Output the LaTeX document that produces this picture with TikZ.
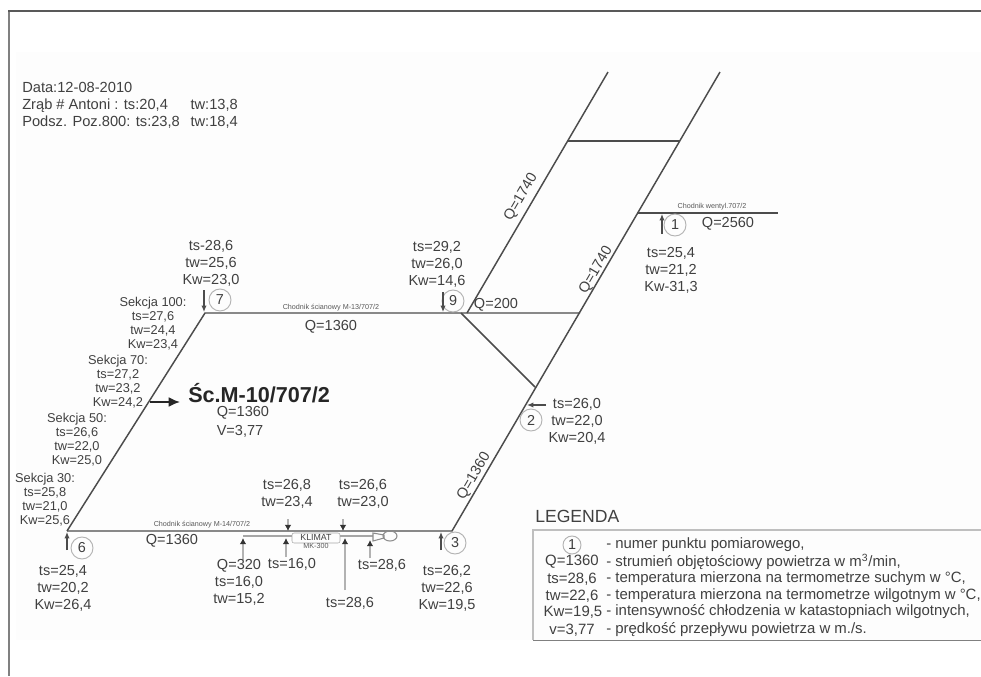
\documentclass[tikz,border=0pt]{standalone}
\usepackage{fontspec}
\setmainfont{Liberation Sans}
\usetikzlibrary{arrows.meta,shapes.geometric}
\begin{document}
\begin{tikzpicture}[
  x=0.75pt, y=-0.75pt,
  txt/.style={text=black!75, align=center, inner sep=0pt, font=\fontsize{10.9}{12.75}\selectfont},
  sek/.style={text=black!75, align=center, inner sep=0pt, font=\fontsize{9.6}{10.5}\selectfont},
  tiny/.style={text=black!65, inner sep=0pt, font=\fontsize{5.4}{6}\selectfont},
  legr/.style={text=black!75, anchor=west, inner sep=0pt, font=\fontsize{11.2}{12}\selectfont},
  pt/.style={circle, draw=black!30, line width=0.7pt, text=black!75, minimum size=16.5pt, inner sep=0pt, font=\fontsize{10.8}{12}\selectfont},
  gal/.style={draw=black!70, line width=1.1pt},
  arr/.style={draw=black!70, line width=0.8pt, -{Latex[length=1.7mm, width=1.4mm]}},
  arg/.style={draw=black!30, line width=0.8pt, -{Latex[length=1.6mm, width=1.7mm, black!80]}},
  duct/.style={draw=black!35, line width=0.8pt},
]
\useasboundingbox (0,0) rectangle (981,676);
\fill[black!0.7] (16,52) rectangle (981,640);
\draw[black!50, line width=1.8pt] (9,11) -- (9,676);
\draw[black!65, line width=1.2pt] (981,11) -- (8.3,11);
% Junctions of the roadways.
\coordinate (j6) at (67,531);
\coordinate (j3) at (452,531);
\coordinate (j7) at (205,313);
\coordinate (j9) at (461,313);
\coordinate (j9b) at (467,313);
\coordinate (jQ) at (580,313);
\coordinate (j2) at (535,387);
\coordinate (j1) at (637,213);
\coordinate (e1) at (778,213);
\coordinate (topL) at (608,72);
\coordinate (topR) at (720,72);
\coordinate (crossL) at (568,141);
\coordinate (crossR) at (680,141);
\draw[gal] (j6) -- (j3) -- (topR);
\draw[gal] (j6) -- (j7) -- (jQ);
\draw[gal] (j9b) -- (topL);
\draw[gal] (crossL) -- (crossR);
\draw[gal] (j9) -- (j2);
\draw[gal, line width=0.9pt] (j1) -- (e1);
% Header.
\node[txt, anchor=north west, align=left, font=\fontsize{11}{12.75}\selectfont] (data) at (22,82) {Data:12-08-2010\\Zrąb \# Antoni : ts:20,4\hspace{17pt}tw:13,8\\Podsz. Poz.800: ts:23,8\hspace{8pt}tw:18,4};
% Measuring points.
\node[pt] (p7) at (220,300) {7};
\node[pt] (p9) at (453,301) {9};
\node[pt] (p1) at (675,225) {1};
\node[pt] (p2) at (531,420) {2};
\node[pt] (p6) at (82,548) {6};
\node[pt] (p3) at (455,543) {3};
\coordinate (a7) at (204,290); \coordinate (b7) at (204,312);
\coordinate (a9) at (443,292); \coordinate (b9) at (443,312);
\coordinate (a1) at (662,234); \coordinate (b1) at (662,214);
\coordinate (a2) at (546,405); \coordinate (b2) at (527,405);
\coordinate (a6) at (67,550); \coordinate (b6) at (67,532);
\coordinate (a3) at (441,550); \coordinate (b3) at (441,532);
\draw[arr] (a7) -- (b7);
\draw[arr] (a9) -- (b9);
\draw[arr] (a1) -- (b1);
\draw[arr] (a2) -- (b2);
\draw[arr] (a6) -- (b6);
\draw[arr] (a3) -- (b3);
\node[txt] (t7) at (211,263) {ts-28,6\\tw=25,6\\Kw=23,0};
\node[txt] (t9) at (437,264) {ts=29,2\\tw=26,0\\Kw=14,6};
\node[txt] (t1) at (671,270) {ts=25,4\\tw=21,2\\Kw-31,3};
\node[txt] (t2) at (577,421) {ts=26,0\\tw=22,0\\Kw=20,4};
\node[txt] (t6) at (63,588) {ts=25,4\\tw=20,2\\Kw=26,4};
\node[txt] (t3) at (447,588) {ts=26,2\\tw=22,6\\Kw=19,5};
% Sections along the wall.
\node[sek] (s100) at (153,324) {Sekcja 100:\\ts=27,6\\tw=24,4\\Kw=23,4};
\node[sek] (s70) at (118,382) {Sekcja 70:\\ts=27,2\\tw=23,2\\Kw=24,2};
\node[sek] (s50) at (77,440) {Sekcja 50:\\ts=26,6\\tw=22,0\\Kw=25,0};
\node[sek] (s30) at (45,500) {Sekcja 30:\\ts=25,8\\tw=21,0\\Kw=25,6};
% Wall title.
\coordinate (wa) at (150,402);
\node[txt, anchor=west, font=\fontsize{16.2}{18}\bfseries\selectfont, text=black!85] (wall) at (188,393) {Śc.M-10/707/2};
\coordinate (wb) at (180,402);
\draw[draw=black!85, line width=1.3pt, -{Latex[length=3mm, width=2.6mm]}] (wa) -- (wb);
\node[txt] (wQ) at (243,413) {Q=1360};
\node[txt] (wV) at (240,431) {V=3,77};
% Flow labels.
\node[tiny] (nm13) at (331,308) {Chodnik ścianowy M-13/707/2};
\node[tiny] (nm14) at (202,525) {Chodnik ścianowy M-14/707/2};
\node[tiny] (nw) at (712,207) {Chodnik wentyl.707/2};
\node[txt] (q13) at (331,327) {Q=1360};
\node[txt] (q14) at (172,541) {Q=1360};
\node[txt] (q200) at (496,305) {Q=200};
\node[txt] (q2560) at (728,224) {Q=2560};
\node[txt, rotate=59.7] (q1740a) at (521,197) {Q=1740};
\node[txt, rotate=59.7] (q1740b) at (596,270) {Q=1740};
\node[txt, rotate=59.7] (q1360c) at (474,476) {Q=1360};
% Air cooler.
\node[draw=black!35, rounded corners=1.5pt, minimum width=36pt, minimum height=7.5pt, inner sep=0pt] (kl) at (316,538) {};
\node[tiny, text=black!75, font=\fontsize{6.6}{7}\selectfont] (klt) at (316,537) {KLIMAT};
\node[tiny] (mk) at (316,546) {MK-300};
\coordinate (d0) at (243,536);
\coordinate (d1) at (373,536);
\draw[duct] (d0) -- (d0 -| kl.west);
\draw[duct] (d1 -| kl.east) -- (d1);
\node[draw=black!45, ellipse, line width=0.8pt, minimum width=10.5pt, minimum height=7.5pt, inner sep=0pt] (fan) at (390,536) {};
\draw[draw=black!45, line width=0.8pt] (373,533) -- (384,535) -- (384,538) -- (373,541) -- cycle;
\coordinate (c1) at (288,519); \coordinate (c2) at (288,531);
\coordinate (c3) at (343,519); \coordinate (c4) at (343,531);
\coordinate (c5) at (243,560); \coordinate (c6) at (243,538);
\coordinate (c7) at (286,557); \coordinate (c8) at (286,538);
\coordinate (c9) at (345,590); \coordinate (c10) at (345,538);
\coordinate (c11) at (370,558); \coordinate (c12) at (370,540);
\draw[arg] (c1) -- (c2);
\draw[arg] (c3) -- (c4);
\draw[arg] (c5) -- (c6);
\draw[arg] (c7) -- (c8);
\draw[arg] (c9) -- (c10);
\draw[arg] (c11) -- (c12);
\node[txt] (u1) at (287,494) {ts=26,8\\tw=23,4};
\node[txt] (u2) at (363,494) {ts=26,6\\tw=23,0};
\node[txt] (l1) at (239,582) {Q=320\\ts=16,0\\tw=15,2};
\node[txt] (l2) at (292,564) {ts=16,0};
\node[txt] (l3) at (382,565) {ts=28,6};
\node[txt] (l4) at (350,603) {ts=28,6};
% Legend.
\node[txt, anchor=west, font=\fontsize{13.2}{14}\selectfont] (leg) at (535,516) {LEGENDA};
\draw[black!25, line width=0.9pt] (981,530) -- (533,530) -- (533,640);
\draw[black!50, line width=0.7pt] (533,640) -- (981,640);
\node[pt, minimum size=13.5pt] (lp) at (572,545) {1};
\node[legr, anchor=center] (k1) at (572,562) {Q=1360};
\node[legr, anchor=center] (k2) at (572,579) {ts=28,6};
\node[legr, anchor=center] (k3) at (572,596) {tw=22,6};
\node[legr, anchor=center] (k4) at (573,612) {Kw=19,5};
\node[legr, anchor=center] (k5) at (572,630) {v=3,77};
\node[legr] (d1t) at (606,545) {- numer punktu pomiarowego,};
\node[legr] (d2t) at (606,562) {- strumień objętościowy powietrza w m\textsuperscript{3}/min,};
\node[legr] (d3t) at (606,579) {- temperatura mierzona na termometrze suchym w °C,};
\node[legr] (d4t) at (606,596) {- temperatura mierzona na termometrze wilgotnym w °C,};
\node[legr] (d5t) at (606,612) {- intensywność chłodzenia w katastopniach wilgotnych,};
\node[legr] (d6t) at (606,630) {- prędkość przepływu powietrza w m./s.};
\end{tikzpicture}
\end{document}
